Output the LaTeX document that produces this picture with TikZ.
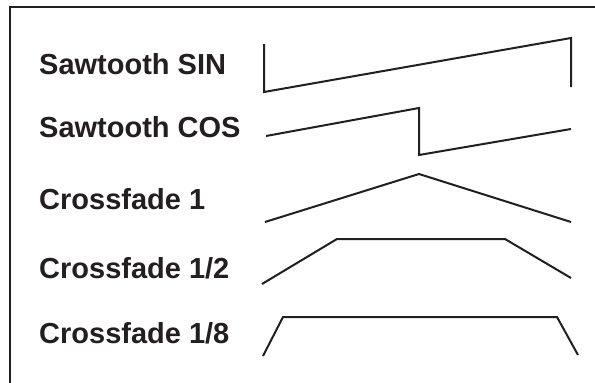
\documentclass[tikz,border=0pt]{standalone}
\usepackage{fontspec}
\setmainfont{Liberation Sans}
\usetikzlibrary{positioning}
\definecolor{inkblack}{RGB}{35, 31, 32}

\begin{document}
\begin{tikzpicture}[x=1pt, y=-1pt, line join=miter,
    wave/.style={draw=inkblack, line width=2pt},
    lbl/.style={anchor=base west, inner sep=0pt, text=inkblack,
        font=\fontsize{29}{33}\selectfont\bfseries}]
            \useasboundingbox (0,0) rectangle (595,383);

            % Frame (only top and left edge show)
            \draw[inkblack, line width=2pt] (10,383) -- (10,7) -- (595,7);

            % Sawtooth SIN
            \node[lbl] (sin) at (39, 74) {Sawtooth SIN};
            \draw[wave] (264,44) -- (264,92) -- (571,38) -- (571,87);

            % Sawtooth COS
            \node[lbl] (cos) at (39, 137) {Sawtooth COS};
            \draw[wave] (266,136) -- (419,108) -- (419,155) -- (571,129);

            % Crossfade 1
            \node[lbl] (xf1) at (39, 209) {Crossfade 1};
            \draw[wave] (265,222) -- (419,174) -- (571,222);

            % Crossfade 1/2
            \node[lbl] (xf2) at (39, 278) {Crossfade 1/2};
            \draw[wave] (262,284) -- (337,239) -- (505,239) -- (571,278);

            % Crossfade 1/8
            \node[lbl] (xf8) at (39, 343) {Crossfade 1/8};
            \draw[wave] (263,356) -- (283,317) -- (557,317) -- (578,355);
        \end{tikzpicture}
\end{document}
